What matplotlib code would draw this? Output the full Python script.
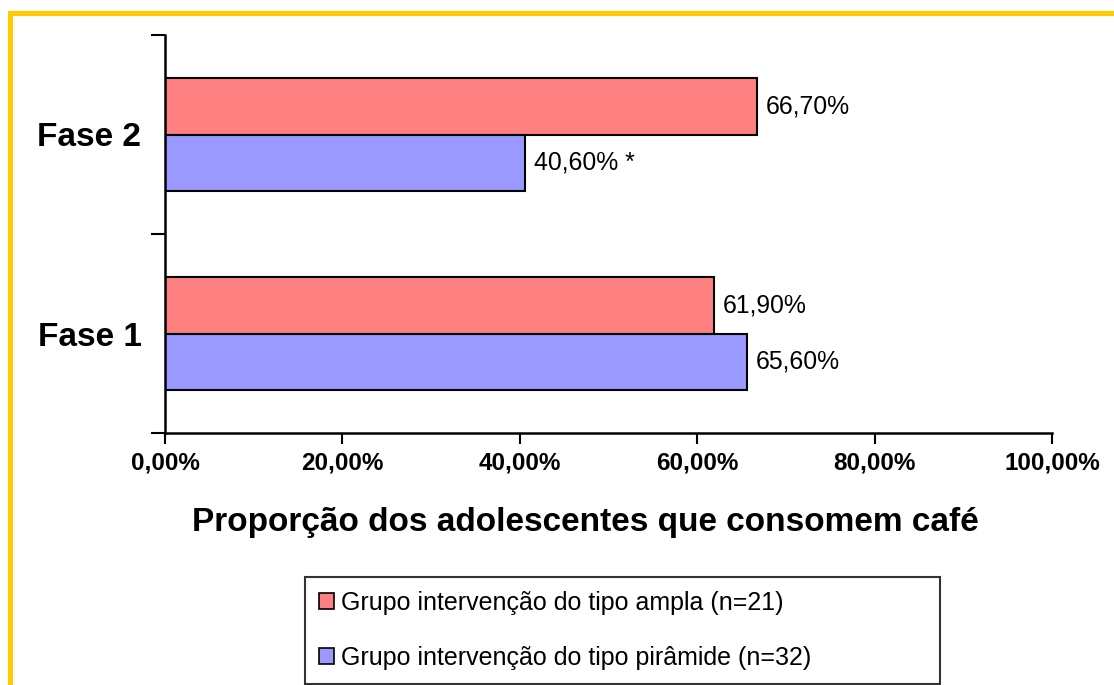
import matplotlib
matplotlib.use("Agg")
import matplotlib.pyplot as plt
from matplotlib.lines import Line2D
from matplotlib.patches import Patch
from matplotlib.ticker import FuncFormatter

plt.rcParams["font.family"] = ["Liberation Sans", "DejaVu Sans"]

fases = ["Fase 1", "Fase 2"]
ampla = [0.619, 0.667]
piramide = [0.656, 0.406]
rotulos_ampla = ["61,90%", "66,70%"]
rotulos_piramide = ["65,60%", "40,60% *"]
legenda = ["Grupo intervenção do tipo ampla (n=21)",
           "Grupo intervenção do tipo pirâmide (n=32)"]

W, H = 1114, 685
fig = plt.figure(figsize=(W / 100, H / 100), dpi=100)
ax = fig.add_axes([165 / W, 1 - 433 / H, (1052 - 165) / W, (433 - 35) / H])

pos = [0.5, 1.5]
h = 0.285
cor_ampla = "#FF8080"
cor_pir = "#9999FF"

b1 = ax.barh([p + h / 2 for p in pos], ampla, height=h, color=cor_ampla,
             edgecolor="black", linewidth=1.5)
b2 = ax.barh([p - h / 2 for p in pos], piramide, height=h, color=cor_pir,
             edgecolor="black", linewidth=1.5)

for bar, txt in zip(b1, rotulos_ampla):
    ax.text(bar.get_width() + 0.01, bar.get_y() + bar.get_height() / 2, txt,
            va="center", ha="left", fontsize=17.8)
for bar, txt in zip(b2, rotulos_piramide):
    ax.text(bar.get_width() + 0.01, bar.get_y() + bar.get_height() / 2, txt,
            va="center", ha="left", fontsize=17.8)

ax.set_xlim(0, 1)
ax.set_ylim(0, 2)
ax.set_xticks([0, 0.2, 0.4, 0.6, 0.8, 1.0])
ax.xaxis.set_major_formatter(FuncFormatter(lambda v, _: f"{v * 100:.2f}%".replace(".", ",")))
ax.tick_params(axis="x", length=8, width=1.5, pad=5, labelsize=17.5)
for lab in ax.get_xticklabels():
    lab.set_fontweight("bold")

ax.set_yticks([0, 1, 2])
ax.set_yticklabels([])
ax.set_yticks(pos, minor=True)
ax.set_yticklabels(fases, minor=True, fontsize=24, fontweight="bold")
ax.tick_params(axis="y", which="major", length=10, width=1.5)
ax.tick_params(axis="y", which="minor", length=0, pad=17)

for s in ["top", "right"]:
    ax.spines[s].set_visible(False)
ax.spines["left"].set_linewidth(1.8)
ax.spines["bottom"].set_linewidth(1.8)

fig.text(585 / W, 1 - 523 / H, "Proporção dos adolescentes que consomem café",
         ha="center", va="center", fontsize=24, fontweight="bold")

handles = [Patch(facecolor=cor_ampla, edgecolor="black", linewidth=1.2),
           Patch(facecolor=cor_pir, edgecolor="black", linewidth=1.2)]
leg = fig.legend(handles, legenda, loc="upper left",
                 bbox_to_anchor=(305 / W, 1 - 683 / H, (940 - 305) / W, (683 - 577) / H),
                 mode="expand", fontsize=18, frameon=True, fancybox=False,
                 handlelength=0.6, handleheight=0.6, handletextpad=0.3,
                 borderpad=0.55, labelspacing=1.25, borderaxespad=0)
leg.get_frame().set_edgecolor("black")
leg.get_frame().set_linewidth(1.5)

# moldura amarela
amarelo = "#FFCC00"
fig.add_artist(Line2D([9.5 / W, 1], [1 - 13 / H, 1 - 13 / H], color=amarelo, linewidth=3.6,
                      transform=fig.transFigure))
fig.add_artist(Line2D([9.5 / W, 9.5 / W], [1 - 13 / H, 0], color=amarelo, linewidth=3.6,
                      transform=fig.transFigure))

fig.savefig("out.png", dpi=100)
